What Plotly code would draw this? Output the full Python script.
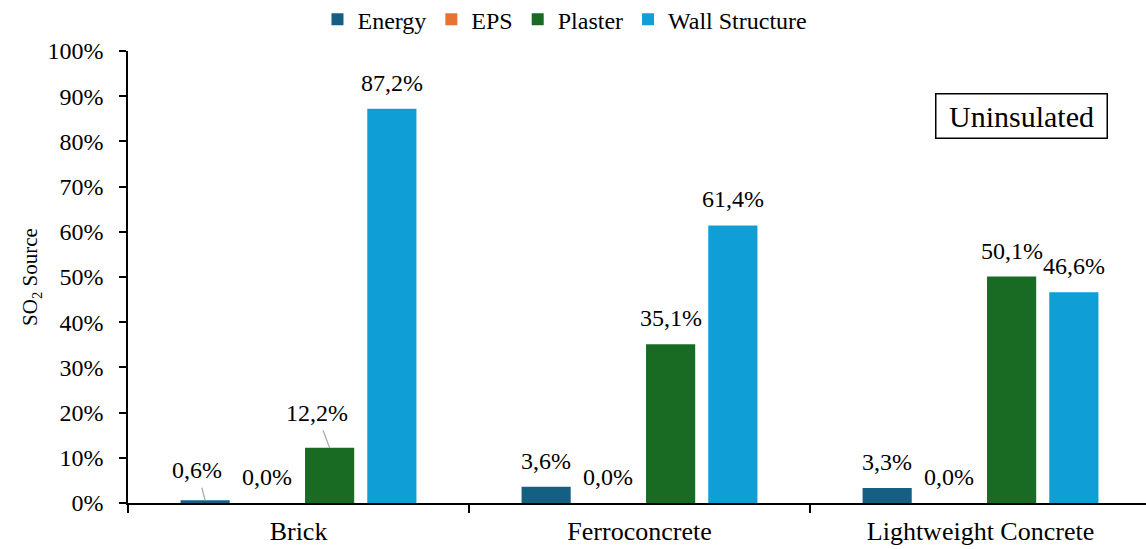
import plotly.graph_objects as go

categories = ["Brick", "Ferroconcrete", "Lightweight Concrete"]
series_names = ["Energy", "EPS", "Plaster", "Wall Structure"]
energy = [0.6, 3.6, 3.3]
eps = [0.0, 0.0, 0.0]
plaster = [12.2, 35.1, 50.1]
wall = [87.2, 61.4, 46.6]
y_ticks = [0, 10, 20, 30, 40, 50, 60, 70, 80, 90, 100]
y_tick_labels = ["0%", "10%", "20%", "30%", "40%", "50%", "60%", "70%", "80%", "90%", "100%"]
box_label = "Uninsulated"

series_values = [energy, eps, plaster, wall]
colors = ["#156082", "#E97132", "#196B24", "#0F9ED5"]

FONT = "Liberation Serif"
W, H = 1146, 549
ML, MR, MT, MB = 128, 0, 51, 46
BARGAP = 0.27
BARGROUPGAP = 0.21
CAT_W = 341  # px per category (plot area extends slightly past the right edge)

plot_w = W - ML - MR
x_range = [-0.5, -0.5 + plot_w / CAT_W]

fig = go.Figure()
for name, vals, col in zip(series_names, series_values, colors):
    fig.add_trace(go.Bar(
        name=name, x=categories, y=vals,
        marker=dict(color=col, line=dict(width=0)),
        hoverinfo="skip",
    ))

# Data labels
slot = (1 - BARGAP) * CAT_W / len(series_names)
leaders = {("Energy", "Brick"): (-8, -30), ("Plaster", "Brick"): (-13, -35)}

annotations = []
for si, (name, vals) in enumerate(zip(series_names, series_values)):
    xs = (si - (len(series_names) - 1) / 2) * slot
    for cat, v in zip(categories, vals):
        txt = f"{v:.1f}%".replace(".", ",")
        if (name, cat) in leaders:
            ax, ay = leaders[(name, cat)]
            annotations.append(dict(
                x=cat, y=v, xref="x", yref="y", text=txt, xshift=xs,
                showarrow=True, arrowhead=0, arrowwidth=1.2, arrowcolor="#A6A6A6",
                ax=ax, ay=ay, startstandoff=3,
                font=dict(family=FONT, size=24, color="black"),
            ))
        else:
            annotations.append(dict(
                x=cat, y=v, xref="x", yref="y", text=txt, xshift=xs,
                showarrow=False, yanchor="bottom", yshift=11,
                font=dict(family=FONT, size=24, color="black"),
            ))

annotations.append(dict(
    x=0.878, y=0.857, xref="paper", yref="paper", text=box_label,
    xanchor="center", yanchor="middle",
    showarrow=False, bordercolor="black", borderwidth=1.5, borderpad=5,
    bgcolor="white", width=160,
    font=dict(family=FONT, size=30, color="black"),
))

fig.update_layout(
    width=W, height=H,
    margin=dict(l=ML, r=MR, t=MT, b=MB, pad=0, autoexpand=False),
    paper_bgcolor="white", plot_bgcolor="white",
    barmode="group", bargap=BARGAP, bargroupgap=BARGROUPGAP,
    font=dict(family=FONT, size=24, color="black"),
    showlegend=True,
    legend=dict(
        orientation="h", xref="container", yref="container",
        x=0.493, xanchor="center", y=0.964, yanchor="middle",
        font=dict(family=FONT, size=24, color="black"),
        itemwidth=30, tracegroupgap=0,
    ),
    annotations=annotations,
)
fig.update_xaxes(
    range=x_range,
    showline=True, linecolor="black", linewidth=1.5,
    ticks="outside", tickson="boundaries", ticklen=8, tickcolor="black", tickwidth=1.5,
    tickfont=dict(family=FONT, size=26, color="black"),
    ticklabelstandoff=4, showgrid=False,
)
fig.update_yaxes(
    range=[0, 100], tickvals=y_ticks, ticktext=y_tick_labels,
    showline=True, linecolor="black", linewidth=1.5,
    ticks="outside", ticklen=7, tickcolor="black", tickwidth=1.5,
    tickfont=dict(family=FONT, size=24, color="black"),
    ticklabelstandoff=11, showgrid=False, zeroline=False,
    title=dict(text="SO<sub>2</sub> Source", font=dict(family=FONT, size=21, color="black"), standoff=4),
)

fig.write_html("out.html", config={"displayModeBar": False},
               post_script="document.body.style.margin='0px';")
